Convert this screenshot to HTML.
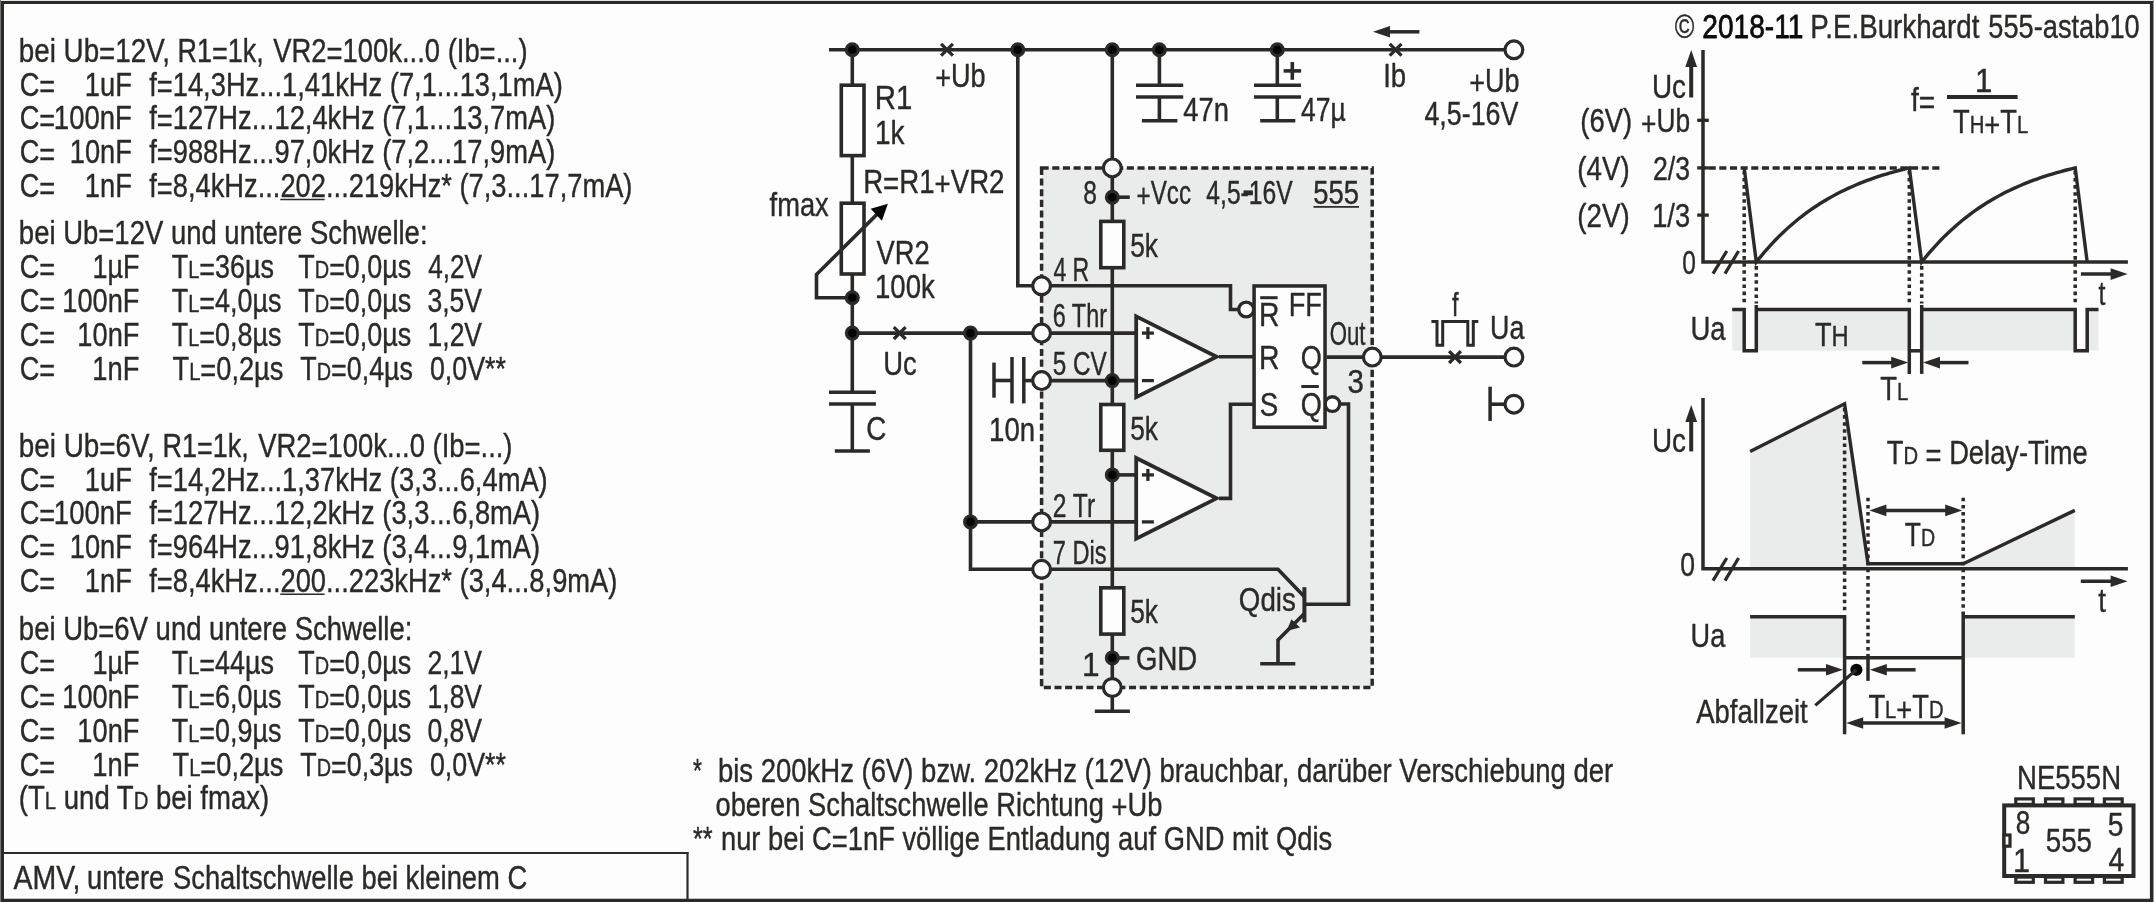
<!DOCTYPE html>
<html><head><meta charset="utf-8"><title>555 astabil - AMV, untere Schaltschwelle bei kleinem C</title>
<style>
html,body{margin:0;padding:0;background:#fdfdfd;}
body{width:2154px;height:902px;overflow:hidden;font-family:"Liberation Sans",sans-serif;}
svg{display:block;will-change:transform;}
text{white-space:pre;}
</style></head><body>
<svg width="2154" height="902" viewBox="0 0 2154 902">
<g stroke="#2b2a28" fill="none" stroke-linecap="butt" stroke-linejoin="miter">
<rect x="0" y="0" width="2154" height="902" fill="#fdfdfd" stroke="none"/>
<rect x="0" y="0" width="2154" height="1" fill="#e6e6e4" stroke="none"/>
<rect x="0" y="0" width="1" height="902" fill="#777" stroke="none"/>
<rect x="2153" y="0" width="1" height="902" fill="#999" stroke="none"/>
<path d="M1,1H2153V902H1Z M4,4V898.7H2149.9V4Z" fill="#2b2a28" fill-rule="evenodd" stroke="none"/>
<line x1="3.00" y1="853.00" x2="688.50" y2="853.00" stroke-width="2.2" />
<line x1="687.50" y1="852.00" x2="687.50" y2="899.00" stroke-width="2.2" />
<rect x="1041.6" y="167.9" width="330.60" height="519.60" fill="#eaeceb" stroke-width="3.5" stroke-dasharray="7.1 3.55"/>
<line x1="829.00" y1="49.80" x2="1504.00" y2="49.80" stroke-width="3.6" />
<line x1="852.30" y1="49.80" x2="852.30" y2="392.20" stroke-width="3.6" />
<rect x="841.30" y="85.20" width="22.70" height="70.40" stroke-width="3.6" fill="#fdfdfd" />
<rect x="841.30" y="203.20" width="22.70" height="70.80" stroke-width="3.6" fill="#fdfdfd" />
<polyline points="852.30,297.80 816.50,297.80 816.50,274.50 880.50,210.90" stroke-width="3.6" fill="none" />
<polygon points="887.9,203.7 870.7,208.8 881.9,220.7" fill="#050505" stroke="none"/>
<line x1="829.00" y1="392.20" x2="875.90" y2="392.20" stroke-width="3.5" />
<line x1="829.00" y1="403.90" x2="875.90" y2="403.90" stroke-width="3.5" />
<line x1="852.30" y1="403.90" x2="852.30" y2="451.00" stroke-width="3.6" />
<line x1="834.80" y1="451.00" x2="869.90" y2="451.00" stroke-width="3.5" />
<line x1="852.30" y1="333.10" x2="1032.60" y2="333.10" stroke-width="3.6" />
<polyline points="970.50,333.10 970.50,569.30 1032.60,569.30" stroke-width="3.6" fill="none" />
<line x1="970.50" y1="521.90" x2="1032.60" y2="521.90" stroke-width="3.6" />
<polyline points="1017.80,49.80 1017.80,285.80 1032.60,285.80" stroke-width="3.6" fill="none" />
<line x1="1112.30" y1="49.80" x2="1112.30" y2="711.30" stroke-width="3.6" />
<line x1="1094.80" y1="711.30" x2="1129.90" y2="711.30" stroke-width="3.5" />
<line x1="1112.30" y1="197.20" x2="1129.80" y2="197.20" stroke-width="3.6" />
<line x1="1112.30" y1="657.90" x2="1129.40" y2="657.90" stroke-width="3.6" />
<rect x="1100.80" y="221.40" width="23.00" height="46.30" stroke-width="3.6" fill="#fdfdfd" />
<rect x="1100.80" y="404.50" width="23.00" height="45.80" stroke-width="3.6" fill="#fdfdfd" />
<rect x="1100.80" y="587.80" width="23.00" height="46.30" stroke-width="3.6" fill="#fdfdfd" />
<polyline points="1050.60,285.80 1230.50,285.80 1230.50,309.50 1239.00,309.50" stroke-width="3.6" fill="none" />
<line x1="1050.60" y1="333.10" x2="1137.00" y2="333.10" stroke-width="3.6" />
<line x1="1050.60" y1="380.60" x2="1137.00" y2="380.60" stroke-width="3.6" />
<line x1="1050.60" y1="521.90" x2="1137.00" y2="521.90" stroke-width="3.6" />
<line x1="1112.30" y1="474.90" x2="1137.00" y2="474.90" stroke-width="3.6" />
<polyline points="1050.60,569.30 1278.00,569.30 1304.40,596.80" stroke-width="3.6" fill="none" />
<polygon points="1136.20,316.35 1216.60,356.75 1136.20,397.15" stroke-width="3.8" fill="#fdfdfd" />
<polygon points="1136.20,457.95 1216.60,498.35 1136.20,538.75" stroke-width="3.8" fill="#fdfdfd" />
<line x1="1141.90" y1="333.10" x2="1153.90" y2="333.10" stroke-width="3.3" />
<line x1="1147.90" y1="327.10" x2="1147.90" y2="339.10" stroke-width="3.3" />
<line x1="1141.90" y1="380.60" x2="1153.90" y2="380.60" stroke-width="3.3" />
<line x1="1141.90" y1="474.90" x2="1153.90" y2="474.90" stroke-width="3.3" />
<line x1="1147.90" y1="468.90" x2="1147.90" y2="480.90" stroke-width="3.3" />
<line x1="1141.90" y1="521.90" x2="1153.90" y2="521.90" stroke-width="3.3" />
<line x1="1219.00" y1="356.75" x2="1254.00" y2="356.75" stroke-width="3.6" />
<polyline points="1219.00,498.35 1230.50,498.35 1230.50,404.20 1254.00,404.20" stroke-width="3.6" fill="none" />
<circle cx="1246.20" cy="309.50" r="7.45" fill="#fdfdfd" stroke-width="3.3"/>
<circle cx="1332.40" cy="404.10" r="7.35" fill="#fdfdfd" stroke-width="3.3"/>
<rect x="1254.08" y="285.97" width="70.95" height="141.25" stroke-width="3.55" fill="#fdfdfd" />
<line x1="1260.20" y1="297.70" x2="1277.60" y2="297.70" stroke-width="3.0" />
<line x1="1301.30" y1="386.50" x2="1318.80" y2="386.50" stroke-width="3.0" />
<line x1="1326.70" y1="357.10" x2="1504.00" y2="357.10" stroke-width="3.6" />
<polyline points="1340.00,404.00 1348.50,404.00 1348.50,604.20 1304.40,604.20" stroke-width="3.6" fill="none" />
<line x1="1304.40" y1="587.20" x2="1304.40" y2="622.30" stroke-width="4" />
<polyline points="1304.40,613.50 1278.00,639.90 1278.00,663.70" stroke-width="3.6" fill="none" />
<polygon points="1286.6,631.0 1291.4,619.3 1300.0,627.6" fill="#2b2a28" stroke="none"/>
<line x1="1260.20" y1="663.70" x2="1295.30" y2="663.70" stroke-width="3.5" />
<line x1="1159.40" y1="49.80" x2="1159.40" y2="85.20" stroke-width="3.6" />
<line x1="1136.00" y1="85.20" x2="1183.20" y2="85.20" stroke-width="3.5" />
<line x1="1136.00" y1="97.00" x2="1183.20" y2="97.00" stroke-width="3.5" />
<line x1="1159.40" y1="97.00" x2="1159.40" y2="120.80" stroke-width="3.6" />
<line x1="1141.90" y1="120.80" x2="1177.40" y2="120.80" stroke-width="3.5" />
<line x1="1277.30" y1="49.80" x2="1277.30" y2="85.20" stroke-width="3.6" />
<line x1="1254.00" y1="85.20" x2="1301.00" y2="85.20" stroke-width="3.5" />
<line x1="1254.00" y1="97.00" x2="1301.00" y2="97.00" stroke-width="3.5" />
<line x1="1277.30" y1="97.00" x2="1277.30" y2="120.80" stroke-width="3.6" />
<line x1="1260.20" y1="120.80" x2="1295.30" y2="120.80" stroke-width="3.5" />
<line x1="1283.60" y1="70.90" x2="1301.10" y2="70.90" stroke-width="3.6" />
<line x1="1292.30" y1="62.00" x2="1292.30" y2="79.80" stroke-width="3.6" />
<line x1="994.00" y1="362.60" x2="994.00" y2="397.70" stroke-width="3.5" />
<line x1="994.00" y1="380.50" x2="1012.00" y2="380.50" stroke-width="3.6" />
<line x1="1012.00" y1="357.00" x2="1012.00" y2="403.40" stroke-width="3.5" />
<line x1="1023.80" y1="357.00" x2="1023.80" y2="403.40" stroke-width="3.5" />
<line x1="1023.80" y1="380.60" x2="1032.60" y2="380.60" stroke-width="3.6" />
<line x1="1419.40" y1="31.80" x2="1388.00" y2="31.80" stroke-width="3.5" />
<polygon points="1373.00,31.80 1390.00,26.00 1390.00,37.60" fill="#2b2a28" stroke="none"/>
<polyline points="1431.40,321.50 1437.00,321.50 1437.00,345.30 1442.70,345.30 1442.70,321.50 1467.80,321.50 1467.80,345.30 1473.30,345.30 1473.30,321.50 1478.30,321.50" stroke-width="3.0" fill="none" />
<line x1="1490.10" y1="386.70" x2="1490.10" y2="421.00" stroke-width="3.5" />
<line x1="1490.10" y1="404.20" x2="1504.00" y2="404.20" stroke-width="3.6" />
<rect x="1243.5" y="190.4" width="9.4" height="4.9" fill="#2b2a28" stroke="none"/>
<line x1="1313.50" y1="206.90" x2="1359.00" y2="206.90" stroke-width="1.6" />
<circle cx="852.30" cy="49.80" r="5.90" fill="#050505" stroke="#2b2a28" stroke-width="3.2"/>
<circle cx="1017.80" cy="49.80" r="5.90" fill="#050505" stroke="#2b2a28" stroke-width="3.2"/>
<circle cx="1112.30" cy="49.80" r="5.90" fill="#050505" stroke="#2b2a28" stroke-width="3.2"/>
<circle cx="1159.40" cy="49.80" r="5.90" fill="#050505" stroke="#2b2a28" stroke-width="3.2"/>
<circle cx="1277.30" cy="49.80" r="5.90" fill="#050505" stroke="#2b2a28" stroke-width="3.2"/>
<circle cx="852.30" cy="297.80" r="5.90" fill="#050505" stroke="#2b2a28" stroke-width="3.2"/>
<circle cx="852.30" cy="333.10" r="5.90" fill="#050505" stroke="#2b2a28" stroke-width="3.2"/>
<circle cx="970.50" cy="333.10" r="5.90" fill="#050505" stroke="#2b2a28" stroke-width="3.2"/>
<circle cx="970.50" cy="521.90" r="5.90" fill="#050505" stroke="#2b2a28" stroke-width="3.2"/>
<circle cx="1112.30" cy="197.20" r="5.90" fill="#050505" stroke="#2b2a28" stroke-width="3.2"/>
<circle cx="1112.30" cy="380.60" r="5.90" fill="#050505" stroke="#2b2a28" stroke-width="3.2"/>
<circle cx="1112.30" cy="474.90" r="5.90" fill="#050505" stroke="#2b2a28" stroke-width="3.2"/>
<circle cx="1112.30" cy="657.90" r="5.90" fill="#050505" stroke="#2b2a28" stroke-width="3.2"/>
<circle cx="1041.60" cy="285.80" r="8.90" fill="#fdfdfd" stroke-width="3.2"/>
<circle cx="1041.60" cy="333.10" r="8.90" fill="#fdfdfd" stroke-width="3.2"/>
<circle cx="1041.60" cy="380.60" r="8.90" fill="#fdfdfd" stroke-width="3.2"/>
<circle cx="1041.60" cy="521.90" r="8.90" fill="#fdfdfd" stroke-width="3.2"/>
<circle cx="1041.60" cy="569.30" r="8.90" fill="#fdfdfd" stroke-width="3.2"/>
<circle cx="1112.30" cy="167.90" r="8.90" fill="#fdfdfd" stroke-width="3.2"/>
<circle cx="1112.30" cy="687.50" r="8.90" fill="#fdfdfd" stroke-width="3.2"/>
<circle cx="1372.30" cy="357.10" r="8.90" fill="#fdfdfd" stroke-width="3.2"/>
<circle cx="1513.90" cy="49.80" r="8.90" fill="#fdfdfd" stroke-width="3.2"/>
<circle cx="1513.90" cy="357.10" r="8.90" fill="#fdfdfd" stroke-width="3.2"/>
<circle cx="1513.90" cy="404.20" r="8.90" fill="#fdfdfd" stroke-width="3.2"/>
<path d="M941.10,43.90L952.90,55.70M941.10,55.70L952.90,43.90" stroke-width="3.3" fill="none"/>
<path d="M1389.70,43.90L1401.50,55.70M1389.70,55.70L1401.50,43.90" stroke-width="3.3" fill="none"/>
<path d="M893.80,327.20L905.60,339.00M893.80,339.00L905.60,327.20" stroke-width="3.3" fill="none"/>
<path d="M1449.10,351.20L1460.90,363.00M1449.10,363.00L1460.90,351.20" stroke-width="3.3" fill="none"/>
<rect x="1732.2" y="310" width="12.00" height="40.6" fill="#eaeceb" stroke="none"/>
<rect x="1756.3" y="310" width="153.00" height="40.6" fill="#eaeceb" stroke="none"/>
<rect x="1921.7" y="310" width="153.50" height="40.6" fill="#eaeceb" stroke="none"/>
<rect x="2087.2" y="310" width="11.30" height="40.6" fill="#eaeceb" stroke="none"/>
<polyline points="1703.00,50.00 1703.00,262.10 2127.90,262.10" stroke-width="3.5" fill="none" />
<line x1="1697.20" y1="120.30" x2="1708.80" y2="120.30" stroke-width="3.3" />
<line x1="1697.20" y1="167.90" x2="1708.80" y2="167.90" stroke-width="3.3" />
<line x1="1697.20" y1="215.10" x2="1708.80" y2="215.10" stroke-width="3.3" />
<line x1="1703.00" y1="167.90" x2="1939.40" y2="167.90" stroke-width="3.5" stroke-dasharray="7.1 3.55" stroke-dashoffset="5"/>
<line x1="1691.20" y1="97.50" x2="1691.20" y2="65.00" stroke-width="4" />
<polygon points="1691.20,50.00 1697.10,67.00 1685.30,67.00" fill="#2b2a28" stroke="none"/>
<line x1="1713.00" y1="273.60" x2="1726.80" y2="251.00" stroke-width="3.2" />
<line x1="1725.00" y1="273.60" x2="1738.60" y2="251.00" stroke-width="3.2" />
<polyline points="1744.20,167.90 1756.30,262.10 1760.12,257.30 1763.95,252.71 1767.77,248.30 1771.60,244.08 1775.42,240.04 1779.25,236.16 1783.08,232.44 1786.90,228.88 1790.72,225.47 1794.55,222.20 1798.38,219.06 1802.20,216.06 1806.02,213.18 1809.85,210.42 1813.67,207.77 1817.50,205.24 1821.33,202.81 1825.15,200.48 1828.97,198.25 1832.80,196.11 1836.62,194.06 1840.45,192.09 1844.27,190.21 1848.10,188.41 1851.92,186.68 1855.75,185.02 1859.58,183.43 1863.40,181.91 1867.22,180.45 1871.05,179.05 1874.88,177.71 1878.70,176.43 1882.52,175.20 1886.35,174.02 1890.17,172.89 1894.00,171.80 1897.83,170.76 1901.65,169.77 1905.47,168.81 1909.30,167.90 1921.70,262.10 1925.54,257.30 1929.38,252.71 1933.21,248.30 1937.05,244.08 1940.89,240.04 1944.72,236.16 1948.56,232.44 1952.40,228.88 1956.24,225.47 1960.08,222.20 1963.91,219.06 1967.75,216.06 1971.59,213.18 1975.42,210.42 1979.26,207.77 1983.10,205.24 1986.94,202.81 1990.77,200.48 1994.61,198.25 1998.45,196.11 2002.29,194.06 2006.12,192.09 2009.96,190.21 2013.80,188.41 2017.64,186.68 2021.47,185.02 2025.31,183.43 2029.15,181.91 2032.99,180.45 2036.82,179.05 2040.66,177.71 2044.50,176.43 2048.34,175.20 2052.17,174.02 2056.01,172.89 2059.85,171.80 2063.69,170.76 2067.52,169.77 2071.36,168.81 2075.20,167.90 2087.20,262.10" stroke-width="3.4" fill="none" stroke-linejoin="miter"/>
<line x1="1744.20" y1="170.90" x2="1744.20" y2="303.50" stroke-width="3.5" stroke-dasharray="3.55 3.55"/>
<line x1="1909.30" y1="170.90" x2="1909.30" y2="303.50" stroke-width="3.5" stroke-dasharray="3.55 3.55"/>
<line x1="2075.20" y1="170.90" x2="2075.20" y2="303.50" stroke-width="3.5" stroke-dasharray="3.55 3.55"/>
<line x1="1756.30" y1="266.10" x2="1756.30" y2="303.50" stroke-width="3.5" stroke-dasharray="3.55 3.55"/>
<line x1="1921.70" y1="266.10" x2="1921.70" y2="303.50" stroke-width="3.5" stroke-dasharray="3.55 3.55"/>
<polyline points="1732.20,309.60 1744.20,309.60 1744.20,350.80 1756.30,350.80 1756.30,305.00" stroke-width="3.5" fill="none" />
<polyline points="1756.30,309.60 1909.30,309.60 1909.30,373.90" stroke-width="3.5" fill="none" />
<line x1="1909.30" y1="350.80" x2="1921.70" y2="350.80" stroke-width="3.5" />
<polyline points="1921.70,373.90 1921.70,305.00" stroke-width="3.5" fill="none" />
<polyline points="1921.70,309.60 2075.20,309.60 2075.20,350.80 2087.20,350.80 2087.20,309.60 2098.50,309.60" stroke-width="3.5" fill="none" />
<line x1="1862.30" y1="362.60" x2="1893.20" y2="362.60" stroke-width="3.5" />
<polygon points="1908.20,362.60 1891.20,368.40 1891.20,356.80" fill="#2b2a28" stroke="none"/>
<line x1="1968.50" y1="362.60" x2="1938.00" y2="362.60" stroke-width="3.5" />
<polygon points="1923.00,362.60 1940.00,356.80 1940.00,368.40" fill="#2b2a28" stroke="none"/>
<line x1="2080.90" y1="274.10" x2="2112.60" y2="274.10" stroke-width="3.5" />
<polygon points="2127.60,274.10 2110.60,279.90 2110.60,268.30" fill="#2b2a28" stroke="none"/>
<line x1="1947.00" y1="97.00" x2="2017.60" y2="97.00" stroke-width="3.8" />
<polygon points="1750.1,451.4 1844.6,403.8 1868,563.8 1868,568.8 1750.1,568.8" fill="#eaeceb" stroke="none"/>
<polygon points="1963.2,563.8 2074.8,510.4 2074.8,568.8 1963.2,568.8" fill="#eaeceb" stroke="none"/>
<rect x="1750.1" y="617" width="94.50" height="40.8" fill="#eaeceb" stroke="none"/>
<rect x="1963.2" y="617" width="111.60" height="40.8" fill="#eaeceb" stroke="none"/>
<polyline points="1703.00,398.00 1703.00,568.80 2127.90,568.80" stroke-width="3.5" fill="none" />
<line x1="1691.20" y1="451.40" x2="1691.20" y2="420.00" stroke-width="4" />
<polygon points="1691.20,405.00 1697.10,422.00 1685.30,422.00" fill="#2b2a28" stroke="none"/>
<line x1="1713.00" y1="580.60" x2="1726.80" y2="558.00" stroke-width="3.2" />
<line x1="1725.00" y1="580.60" x2="1738.60" y2="558.00" stroke-width="3.2" />
<polyline points="1750.10,451.40 1844.60,403.80 1868.00,563.80 1963.20,563.80 2074.80,510.40" stroke-width="3.4" fill="none" stroke-linejoin="miter"/>
<line x1="1844.60" y1="408.00" x2="1844.60" y2="613.00" stroke-width="3.5" stroke-dasharray="3.55 3.55"/>
<line x1="1868.00" y1="497.80" x2="1868.00" y2="657.00" stroke-width="3.5" stroke-dasharray="3.55 3.55"/>
<line x1="1963.20" y1="497.80" x2="1963.20" y2="613.00" stroke-width="3.5" stroke-dasharray="3.55 3.55"/>
<line x1="1880.00" y1="510.40" x2="1951.00" y2="510.40" stroke-width="3.5" />
<polygon points="1869.40,510.40 1886.40,504.60 1886.40,516.20" fill="#2b2a28" stroke="none"/>
<polygon points="1962.20,510.40 1945.20,516.20 1945.20,504.60" fill="#2b2a28" stroke="none"/>
<line x1="2080.80" y1="581.30" x2="2112.60" y2="581.30" stroke-width="3.5" />
<polygon points="2127.60,581.30 2110.60,587.10 2110.60,575.50" fill="#2b2a28" stroke="none"/>
<polyline points="1750.10,616.70 1844.60,616.70 1844.60,734.30" stroke-width="3.5" fill="none" />
<line x1="1844.60" y1="657.80" x2="1963.20" y2="657.80" stroke-width="3.5" />
<line x1="1963.20" y1="612.70" x2="1963.20" y2="734.30" stroke-width="3.5" />
<line x1="1963.20" y1="616.70" x2="2074.80" y2="616.70" stroke-width="3.5" />
<line x1="1868.00" y1="657.80" x2="1868.00" y2="680.90" stroke-width="3.5" />
<line x1="1797.80" y1="669.80" x2="1828.00" y2="669.80" stroke-width="3.5" />
<polygon points="1843.00,669.80 1826.00,675.60 1826.00,664.00" fill="#2b2a28" stroke="none"/>
<line x1="1915.60" y1="669.80" x2="1884.80" y2="669.80" stroke-width="3.5" />
<polygon points="1869.80,669.80 1886.80,664.00 1886.80,675.60" fill="#2b2a28" stroke="none"/>
<circle cx="1856.4" cy="669.8" r="6.1" fill="#050505" stroke="none"/>
<line x1="1856.40" y1="669.80" x2="1815.30" y2="705.40" stroke-width="3.2" />
<line x1="1858.00" y1="723.00" x2="1950.00" y2="723.00" stroke-width="3.5" />
<polygon points="1846.20,723.00 1863.20,717.20 1863.20,728.80" fill="#2b2a28" stroke="none"/>
<polygon points="1961.60,723.00 1944.60,728.80 1944.60,717.20" fill="#2b2a28" stroke="none"/>
<rect x="2015.80" y="798.90" width="17.50" height="5.50" stroke-width="3.2" fill="#fdfdfd" />
<rect x="2015.80" y="877.10" width="17.50" height="5.20" stroke-width="3.2" fill="#fdfdfd" />
<rect x="2045.50" y="798.90" width="17.40" height="5.50" stroke-width="3.2" fill="#fdfdfd" />
<rect x="2045.50" y="877.10" width="17.40" height="5.20" stroke-width="3.2" fill="#fdfdfd" />
<rect x="2075.10" y="798.90" width="17.50" height="5.50" stroke-width="3.2" fill="#fdfdfd" />
<rect x="2075.10" y="877.10" width="17.50" height="5.20" stroke-width="3.2" fill="#fdfdfd" />
<rect x="2104.40" y="798.90" width="17.80" height="5.50" stroke-width="3.2" fill="#fdfdfd" />
<rect x="2104.40" y="877.10" width="17.80" height="5.20" stroke-width="3.2" fill="#fdfdfd" />
<rect x="2004.20" y="805.40" width="129.30" height="70.60" stroke-width="4" fill="#fdfdfd" />
<rect x="2004.00" y="835.00" width="6.00" height="11.20" stroke-width="3.2" fill="#fdfdfd" />
<line x1="280.30" y1="199.40" x2="324.60" y2="199.40" stroke-width="1.5" />
<line x1="280.30" y1="594.30" x2="324.60" y2="594.30" stroke-width="1.5" />
</g>
<g fill="#2b2a28" stroke="#2b2a28" stroke-width="0.4" stroke-linejoin="round" font-family="'Liberation Sans', sans-serif" font-size="33.4" xml:space="preserve">
<text transform="translate(18.84,61.80) scale(0.8316,1)">bei Ub<tspan dy="2.70">=</tspan><tspan dy="-2.70">12V,</tspan></text>
<text transform="translate(177.58,61.80) scale(0.8082,1)">R1<tspan dy="2.70">=</tspan><tspan dy="-2.70">1k,</tspan></text>
<text transform="translate(273.30,61.80) scale(0.8205,1)">VR2<tspan dy="2.70">=</tspan><tspan dy="-2.70">100k...0 (Ib</tspan><tspan dy="2.70">=</tspan><tspan dy="-2.70">...)</tspan></text>
<text transform="translate(19.69,95.70) scale(0.8148,1)">C<tspan dy="2.70">=</tspan></text>
<text transform="translate(84.86,95.70) scale(0.8179,1)">1uF</text>
<text transform="translate(149.20,95.70) scale(0.8180,1)">f<tspan dy="2.70">=</tspan><tspan dy="-2.70">14,3Hz...1,41kHz (7,1...13,1mA)</tspan></text>
<text transform="translate(19.69,129.40) scale(0.8148,1)">C<tspan dy="2.70">=</tspan></text>
<text transform="translate(53.85,129.40) scale(0.8247,1)">100nF</text>
<text transform="translate(149.20,129.40) scale(0.8180,1)">f<tspan dy="2.70">=</tspan><tspan dy="-2.70">127Hz...12,4kHz (7,1...13,7mA)</tspan></text>
<text transform="translate(19.69,163.40) scale(0.8148,1)">C<tspan dy="2.70">=</tspan></text>
<text transform="translate(69.77,163.40) scale(0.8167,1)">10nF</text>
<text transform="translate(149.20,163.40) scale(0.8180,1)">f<tspan dy="2.70">=</tspan><tspan dy="-2.70">988Hz...97,0kHz (7,2...17,9mA)</tspan></text>
<text transform="translate(19.69,197.20) scale(0.8148,1)">C<tspan dy="2.70">=</tspan></text>
<text transform="translate(84.86,197.20) scale(0.8179,1)">1nF</text>
<text transform="translate(149.20,197.20) scale(0.8173,1)">f<tspan dy="2.70">=</tspan><tspan dy="-2.70">8,4kHz...202...219kHz* (7,3...17,7mA)</tspan></text>
<text transform="translate(18.85,244.30) scale(0.8231,1)">bei Ub<tspan dy="2.70">=</tspan><tspan dy="-2.70">12V und untere Schwelle:</tspan></text>
<text transform="translate(19.69,278.10) scale(0.8148,1)">C<tspan dy="2.70">=</tspan></text>
<text transform="translate(92.38,278.10) scale(0.8081,1)">1µF</text>
<text transform="translate(171.70,278.10) scale(0.8062,1)">T<tspan font-size="24.72">L</tspan><tspan dy="2.70">=</tspan><tspan dy="-2.70">36µs</tspan></text>
<text transform="translate(298.30,278.10) scale(0.8056,1)">T<tspan font-size="24.72">D</tspan><tspan dy="2.70">=</tspan><tspan dy="-2.70">0,0µs</tspan></text>
<text transform="translate(428.20,278.10) scale(0.7837,1)">4,2V</text>
<text transform="translate(19.69,311.90) scale(0.8148,1)">C<tspan dy="2.70">=</tspan></text>
<text transform="translate(62.27,311.90) scale(0.8149,1)">100nF</text>
<text transform="translate(171.70,311.90) scale(0.8064,1)">T<tspan font-size="24.72">L</tspan><tspan dy="2.70">=</tspan><tspan dy="-2.70">4,0µs</tspan></text>
<text transform="translate(298.30,311.90) scale(0.8056,1)">T<tspan font-size="24.72">D</tspan><tspan dy="2.70">=</tspan><tspan dy="-2.70">0,0µs</tspan></text>
<text transform="translate(427.40,311.90) scale(0.7951,1)">3,5V</text>
<text transform="translate(19.69,345.80) scale(0.8148,1)">C<tspan dy="2.70">=</tspan></text>
<text transform="translate(77.37,345.80) scale(0.8153,1)">10nF</text>
<text transform="translate(171.70,345.80) scale(0.8064,1)">T<tspan font-size="24.72">L</tspan><tspan dy="2.70">=</tspan><tspan dy="-2.70">0,8µs</tspan></text>
<text transform="translate(298.30,345.80) scale(0.8056,1)">T<tspan font-size="24.72">D</tspan><tspan dy="2.70">=</tspan><tspan dy="-2.70">0,0µs</tspan></text>
<text transform="translate(427.62,345.80) scale(0.7921,1)">1,2V</text>
<text transform="translate(19.69,379.60) scale(0.8148,1)">C<tspan dy="2.70">=</tspan></text>
<text transform="translate(92.36,379.60) scale(0.8179,1)">1nF</text>
<text transform="translate(172.50,379.60) scale(0.8152,1)">T<tspan font-size="24.72">L</tspan><tspan dy="2.70">=</tspan><tspan dy="-2.70">0,2µs</tspan></text>
<text transform="translate(300.30,379.60) scale(0.8041,1)">T<tspan font-size="24.72">D</tspan><tspan dy="2.70">=</tspan><tspan dy="-2.70">0,4µs</tspan></text>
<text transform="translate(429.90,379.60) scale(0.8027,1)">0,0V**</text>
<text transform="translate(18.83,456.80) scale(0.8338,1)">bei Ub<tspan dy="2.70">=</tspan><tspan dy="-2.70">6V,</tspan></text>
<text transform="translate(162.59,456.80) scale(0.8072,1)">R1<tspan dy="2.70">=</tspan><tspan dy="-2.70">1k,</tspan></text>
<text transform="translate(258.20,456.80) scale(0.8205,1)">VR2<tspan dy="2.70">=</tspan><tspan dy="-2.70">100k...0 (Ib</tspan><tspan dy="2.70">=</tspan><tspan dy="-2.70">...)</tspan></text>
<text transform="translate(19.69,490.60) scale(0.8148,1)">C<tspan dy="2.70">=</tspan></text>
<text transform="translate(84.86,490.60) scale(0.8179,1)">1uF</text>
<text transform="translate(149.20,490.60) scale(0.8182,1)">f<tspan dy="2.70">=</tspan><tspan dy="-2.70">14,2Hz...1,37kHz (3,3...6,4mA)</tspan></text>
<text transform="translate(19.69,524.40) scale(0.8148,1)">C<tspan dy="2.70">=</tspan></text>
<text transform="translate(53.85,524.40) scale(0.8247,1)">100nF</text>
<text transform="translate(149.20,524.40) scale(0.8184,1)">f<tspan dy="2.70">=</tspan><tspan dy="-2.70">127Hz...12,2kHz (3,3...6,8mA)</tspan></text>
<text transform="translate(19.69,558.30) scale(0.8148,1)">C<tspan dy="2.70">=</tspan></text>
<text transform="translate(69.77,558.30) scale(0.8167,1)">10nF</text>
<text transform="translate(149.20,558.30) scale(0.8184,1)">f<tspan dy="2.70">=</tspan><tspan dy="-2.70">964Hz...91,8kHz (3,4...9,1mA)</tspan></text>
<text transform="translate(19.69,592.10) scale(0.8148,1)">C<tspan dy="2.70">=</tspan></text>
<text transform="translate(84.86,592.10) scale(0.8179,1)">1nF</text>
<text transform="translate(149.20,592.10) scale(0.8176,1)">f<tspan dy="2.70">=</tspan><tspan dy="-2.70">8,4kHz...200...223kHz* (3,4...8,9mA)</tspan></text>
<text transform="translate(18.85,640.00) scale(0.8233,1)">bei Ub<tspan dy="2.70">=</tspan><tspan dy="-2.70">6V und untere Schwelle:</tspan></text>
<text transform="translate(19.69,674.40) scale(0.8148,1)">C<tspan dy="2.70">=</tspan></text>
<text transform="translate(92.38,674.40) scale(0.8081,1)">1µF</text>
<text transform="translate(171.70,674.40) scale(0.8062,1)">T<tspan font-size="24.72">L</tspan><tspan dy="2.70">=</tspan><tspan dy="-2.70">44µs</tspan></text>
<text transform="translate(298.30,674.40) scale(0.8056,1)">T<tspan font-size="24.72">D</tspan><tspan dy="2.70">=</tspan><tspan dy="-2.70">0,0µs</tspan></text>
<text transform="translate(427.40,674.40) scale(0.7951,1)">2,1V</text>
<text transform="translate(19.69,708.20) scale(0.8148,1)">C<tspan dy="2.70">=</tspan></text>
<text transform="translate(62.27,708.20) scale(0.8149,1)">100nF</text>
<text transform="translate(171.70,708.20) scale(0.8064,1)">T<tspan font-size="24.72">L</tspan><tspan dy="2.70">=</tspan><tspan dy="-2.70">6,0µs</tspan></text>
<text transform="translate(298.30,708.20) scale(0.8056,1)">T<tspan font-size="24.72">D</tspan><tspan dy="2.70">=</tspan><tspan dy="-2.70">0,0µs</tspan></text>
<text transform="translate(427.62,708.20) scale(0.7921,1)">1,8V</text>
<text transform="translate(19.69,742.00) scale(0.8148,1)">C<tspan dy="2.70">=</tspan></text>
<text transform="translate(77.37,742.00) scale(0.8153,1)">10nF</text>
<text transform="translate(171.70,742.00) scale(0.8064,1)">T<tspan font-size="24.72">L</tspan><tspan dy="2.70">=</tspan><tspan dy="-2.70">0,9µs</tspan></text>
<text transform="translate(298.30,742.00) scale(0.8056,1)">T<tspan font-size="24.72">D</tspan><tspan dy="2.70">=</tspan><tspan dy="-2.70">0,0µs</tspan></text>
<text transform="translate(427.40,742.00) scale(0.7951,1)">0,8V</text>
<text transform="translate(19.69,775.80) scale(0.8148,1)">C<tspan dy="2.70">=</tspan></text>
<text transform="translate(92.36,775.80) scale(0.8179,1)">1nF</text>
<text transform="translate(172.50,775.80) scale(0.8152,1)">T<tspan font-size="24.72">L</tspan><tspan dy="2.70">=</tspan><tspan dy="-2.70">0,2µs</tspan></text>
<text transform="translate(300.30,775.80) scale(0.8041,1)">T<tspan font-size="24.72">D</tspan><tspan dy="2.70">=</tspan><tspan dy="-2.70">0,3µs</tspan></text>
<text transform="translate(429.90,775.80) scale(0.8027,1)">0,0V**</text>
<text transform="translate(18.85,809.00) scale(0.8239,1)">(T<tspan font-size="24.72">L</tspan> und T<tspan font-size="24.72">D</tspan> bei fmax)</text>
<text transform="translate(13.40,889.10) scale(0.8533,1)">AMV,</text>
<text transform="translate(86.97,889.10) scale(0.8164,1)">untere</text>
<text transform="translate(172.98,889.10) scale(0.8194,1)">Schaltschwelle bei kleinem C</text>
<text transform="translate(693.00,781.80) scale(0.6923,1)">*</text>
<text transform="translate(717.95,781.80) scale(0.8233,1)">bis 200kHz (6V) bzw. 202kHz (12V) brauchbar, darüber Verschiebung der</text>
<text transform="translate(715.48,815.60) scale(0.8173,1)">oberen Schaltschwelle Richtung <tspan dy="2.70">+</tspan><tspan dy="-2.70">Ub</tspan></text>
<text transform="translate(693.00,850.00) scale(0.7540,1)">**</text>
<text transform="translate(720.96,850.00) scale(0.8185,1)">nur bei C<tspan dy="2.70">=</tspan><tspan dy="-2.70">1nF völlige Entladung auf GND mit Qdis</tspan></text>
<text transform="translate(1674.70,38.00) scale(0.7960,1)">©</text>
<text transform="translate(1702.26,38.00) scale(0.8418,1)" stroke="#0c0c0c" stroke-width="0.75" fill="#0c0c0c">2018-11</text>
<text transform="translate(1810.34,38.00) scale(0.8305,1)">P.E.Burkhardt</text>
<text transform="translate(1988.28,38.00) scale(0.8154,1)">555-astab10</text>
<text transform="translate(874.84,108.60) scale(0.8795,1)">R1</text>
<text transform="translate(874.93,143.70) scale(0.8370,1)">1k</text>
<text transform="translate(935.19,86.60) scale(0.8117,1)"><tspan dy="2.70">+</tspan><tspan dy="-2.70">Ub</tspan></text>
<text transform="translate(863.14,192.60) scale(0.8278,1)">R<tspan dy="2.70">=</tspan><tspan dy="-2.70">R1</tspan><tspan dy="2.70">+</tspan><tspan dy="-2.70">VR2</tspan></text>
<text transform="translate(769.60,215.70) scale(0.8175,1)">fmax</text>
<text transform="translate(876.60,263.60) scale(0.8188,1)">VR2</text>
<text transform="translate(874.95,297.50) scale(0.8259,1)">100k</text>
<text transform="translate(883.26,375.20) scale(0.8212,1)">Uc</text>
<text transform="translate(866.27,439.90) scale(0.8318,1)">C</text>
<text transform="translate(989.05,440.70) scale(0.8266,1)">10n</text>
<text transform="translate(1183.20,121.20) scale(0.8201,1)">47n</text>
<text transform="translate(1301.00,121.20) scale(0.7927,1)">47µ</text>
<text transform="translate(1383.13,86.60) scale(0.8238,1)">Ib</text>
<text transform="translate(1469.19,91.60) scale(0.8084,1)"><tspan dy="2.70">+</tspan><tspan dy="-2.70">Ub</tspan></text>
<text transform="translate(1424.40,125.40) scale(0.8039,1)">4,5-16V</text>
<text transform="translate(1083.26,203.90) scale(0.7353,1)">8</text>
<text transform="translate(1136.58,203.90) scale(0.7241,1)"><tspan dy="2.70">+</tspan><tspan dy="-2.70">Vcc</tspan></text>
<text transform="translate(1206.30,203.90) scale(0.7393,1)">4,5-16V</text>
<text transform="translate(1313.18,203.90) scale(0.8219,1)">555</text>
<text transform="translate(1130.21,256.90) scale(0.7868,1)">5k</text>
<text transform="translate(1130.21,440.40) scale(0.7868,1)">5k</text>
<text transform="translate(1130.21,623.20) scale(0.7868,1)">5k</text>
<text transform="translate(1053.40,280.70) scale(0.6903,1)">4 R</text>
<text transform="translate(1052.70,327.10) scale(0.7017,1)">6 Thr</text>
<text transform="translate(1052.67,375.20) scale(0.7288,1)">5 CV</text>
<text transform="translate(1052.66,517.10) scale(0.7385,1)">2 Tr</text>
<text transform="translate(1052.69,564.00) scale(0.7072,1)">7 Dis</text>
<text transform="translate(1259.00,326.10) scale(0.8476,1)">R</text>
<text transform="translate(1288.67,316.10) scale(0.8152,1)">FF</text>
<text transform="translate(1259.00,369.30) scale(0.8476,1)">R</text>
<text transform="translate(1300.79,369.30) scale(0.8125,1)">Q</text>
<text transform="translate(1259.87,415.60) scale(0.8300,1)">S</text>
<text transform="translate(1300.79,415.60) scale(0.8125,1)">Q</text>
<text transform="translate(1329.74,344.90) scale(0.6649,1)">Out</text>
<text transform="translate(1347.62,392.60) scale(0.8824,1)">3</text>
<text transform="translate(1452.00,315.60) scale(0.7000,1)">f</text>
<text transform="translate(1489.99,339.40) scale(0.8051,1)">Ua</text>
<text transform="translate(1238.87,611.20) scale(0.8303,1)">Qdis</text>
<text transform="translate(1081.91,675.90) scale(0.9467,1)">1</text>
<text transform="translate(1136.08,670.10) scale(0.8240,1)">GND</text>
<text transform="translate(1651.93,97.80) scale(0.8343,1)">Uc</text>
<text transform="translate(1580.26,132.20) scale(0.8222,1)">(6V)</text>
<text transform="translate(1641.01,132.20) scale(0.7886,1)"><tspan dy="2.70">+</tspan><tspan dy="-2.70">Ub</tspan></text>
<text transform="translate(1577.34,179.60) scale(0.8289,1)">(4V)</text>
<text transform="translate(1653.00,179.60) scale(0.7983,1)">2/3</text>
<text transform="translate(1577.34,227.30) scale(0.8289,1)">(2V)</text>
<text transform="translate(1652.17,227.30) scale(0.8165,1)">1/3</text>
<text transform="translate(1682.26,273.70) scale(0.7353,1)">0</text>
<text transform="translate(1911.00,110.80) scale(0.8432,1)">f<tspan dy="2.70">=</tspan></text>
<text transform="translate(1974.93,91.80) scale(0.9333,1)">1</text>
<text transform="translate(1953.00,133.30) scale(0.8185,1)">T<tspan font-size="24.72">H</tspan><tspan dy="2.70">+</tspan><tspan dy="-2.70">T</tspan><tspan font-size="24.72">L</tspan></text>
<text transform="translate(2098.50,305.30) scale(0.7500,1)">t</text>
<text transform="translate(1690.45,340.30) scale(0.8245,1)">Ua</text>
<text transform="translate(1815.00,345.80) scale(0.8148,1)">T<tspan font-size="29.06">H</tspan></text>
<text transform="translate(1880.20,399.50) scale(0.8234,1)">T<tspan font-size="24.72">L</tspan></text>
<text transform="translate(1651.93,452.30) scale(0.8343,1)">Uc</text>
<text transform="translate(1886.70,464.40) scale(0.8182,1)">T<tspan font-size="24.72">D</tspan> <tspan dy="2.70">=</tspan><tspan dy="-2.70"> Delay-Time</tspan></text>
<text transform="translate(1904.80,546.40) scale(0.7915,1)">T<tspan font-size="24.72">D</tspan></text>
<text transform="translate(1680.21,575.70) scale(0.7941,1)">0</text>
<text transform="translate(2098.30,612.30) scale(0.8300,1)">t</text>
<text transform="translate(1690.58,647.40) scale(0.8124,1)">Ua</text>
<text transform="translate(1696.20,723.40) scale(0.8230,1)">Abfallzeit</text>
<text transform="translate(1868.40,718.40) scale(0.8183,1)">T<tspan font-size="24.72">L</tspan><tspan dy="2.70">+</tspan><tspan dy="-2.70">T</tspan><tspan font-size="24.72">D</tspan></text>
<text transform="translate(2017.05,788.50) scale(0.8239,1)">NE555N</text>
<text transform="translate(2015.82,834.20) scale(0.7824,1)">8</text>
<text transform="translate(2107.65,835.60) scale(0.8471,1)">5</text>
<text transform="translate(2012.96,871.50) scale(0.9200,1)">1</text>
<text transform="translate(2108.50,870.60) scale(0.8500,1)">4</text>
<text transform="translate(2045.77,852.10) scale(0.8293,1)">555</text>
</g>
</svg>
</body></html>
